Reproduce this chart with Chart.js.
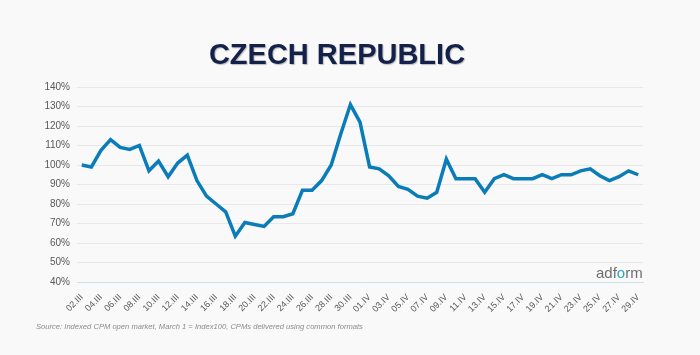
<!DOCTYPE html>
<html>
<head>
<meta charset="utf-8">
<script src="https://cdn.jsdelivr.net/npm/chart.js@4/dist/chart.umd.min.js"></script>
<style>
  html, body { margin: 0; padding: 0; background: #f9f9f9; }
  #wrap { position: relative; width: 700px; height: 355px; overflow: hidden; }
  canvas { display: block; }
  .title { position: absolute; left: 0; width: 674px; top: 39.5px; text-align: center;
           font: bold 29px "Liberation Sans", Arial, sans-serif; line-height: 1; color: #14214b;
           text-shadow: 1px 1px 1px rgba(0,0,0,0.25); white-space: nowrap; }
  .source { position: absolute; left: 36px; top: 323px; font: italic 7.6px "Liberation Sans", Arial, sans-serif;
            line-height: 1; color: #8c8c8c; white-space: nowrap; }
  .logo { position: absolute; left: 596px; top: 265px; font: 15px "Liberation Sans", Arial, sans-serif;
          line-height: 1; color: #6e6e6e; white-space: nowrap; }
  .logo span { color: #2aa6c9; }
</style>
</head>
<body>
<div id="wrap">
  <canvas id="c" width="700" height="355"></canvas>
  <div class="title">CZECH REPUBLIC</div>
  <div class="source">Source: Indexed CPM open market, March 1 = Index100, CPMs delivered using common formats</div>
  <div class="logo">adf<span>o</span>rm</div>
</div>
<script>
const dates = [
  "02.III","03.III","04.III","05.III","06.III","07.III","08.III","09.III","10.III","11.III",
  "12.III","13.III","14.III","15.III","16.III","17.III","18.III","19.III","20.III","21.III",
  "22.III","23.III","24.III","25.III","26.III","27.III","28.III","29.III","30.III","31.III",
  "01.IV","02.IV","03.IV","04.IV","05.IV","06.IV","07.IV","08.IV","09.IV","10.IV",
  "11.IV","12.IV","13.IV","14.IV","15.IV","16.IV","17.IV","18.IV","19.IV","20.IV",
  "21.IV","22.IV","23.IV","24.IV","25.IV","26.IV","27.IV","28.IV","29.IV"
];
const cpmIndex = [
  100, 99, 107.5, 113, 109, 108, 110, 97, 102, 94,
  101, 105, 92, 84, 80, 76, 63.5, 70.5, 69.5, 68.5,
  73.5, 73.5, 75, 87, 87, 92, 100, 116, 131, 122,
  99, 98, 94.5, 89, 87.5, 84, 83, 86, 103, 93,
  93, 93, 86, 93, 95, 93, 93, 93, 95, 93,
  95, 95, 97, 98, 94.5, 92, 94, 97, 95
];
const yMin = 40, yMax = 140, yStep = 10;

new Chart(document.getElementById('c'), {
  type: 'line',
  data: {
    labels: dates,
    datasets: [{
      data: cpmIndex,
      borderColor: '#0a7cb8',
      borderWidth: 3.5,
      pointRadius: 0,
      tension: 0,
      fill: false
    }]
  },
  options: {
    responsive: false,
    devicePixelRatio: 1,
    animation: false,
    layout: { padding: { top: 87, right: 57, left: 0, bottom: 0 } },
    plugins: { legend: { display: false }, tooltip: { enabled: false } },
    scales: {
      x: {
        offset: true,
        grid: { display: false },
        border: { display: true, color: '#cfe0ee', width: 1 },
        ticks: {
          autoSkip: false, maxRotation: 45, minRotation: 45, padding: 2,
          color: '#595959', font: { family: '"Liberation Sans", Arial, sans-serif', size: 9 },
          callback: (v, i) => (i % 2 === 0 ? dates[i] : '')
        },
        afterFit: s => { s.height = 73; }
      },
      y: {
        min: yMin, max: yMax,
        grid: { color: '#e8e8e8', drawTicks: false },
        border: { display: false },
        ticks: {
          stepSize: yStep, padding: 7, color: '#595959',
          font: { family: '"Liberation Sans", Arial, sans-serif', size: 10 },
          callback: v => v + '%'
        },
        afterFit: s => { s.width = 77; }
      }
    }
  }
});
</script>
</body>
</html>
